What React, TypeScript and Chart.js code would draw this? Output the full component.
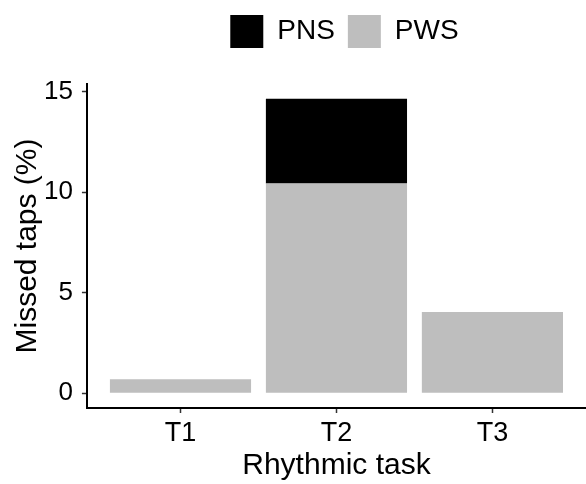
import React, { useEffect, useRef } from "react";
import { Chart, registerables } from "chart.js";

Chart.register(...registerables);

const categories = ["T1", "T2", "T3"];
const pwsValues = [0.7, 10.42, 4.04];
const pnsValues = [0, 4.22, 0];
const yTicks = [0, 5, 10, 15];
const seriesNames = { pns: "PNS", pws: "PWS" };
const xTitle = "Rhythmic task";
const yTitle = "Missed taps (%)";

export default function App() {
  const ref = useRef<HTMLCanvasElement>(null);

  useEffect(() => {
    document.body.style.margin = "0";
    if (!ref.current) return;
    Chart.defaults.font.family = "'Liberation Sans', Arial, sans-serif";

    const legendTweak = {
      id: "legendTweak",
      beforeInit(chart: any) {
        const l = chart.legend;
        if (!l) return;
        const fit = l.fit;
        l.fit = function () {
          fit.call(l);
          l.height += 26;
        };
      },
      afterLayout(chart: any) {
        const l = chart.legend;
        if (!l) return;
        l.left += 8;
        l.right += 8;
      },
    };

    const chart = new Chart(ref.current, {
      type: "bar",
      data: {
        datasets: [
          {
            label: seriesNames.pws,
            data: categories.map((_, i) => ({ x: i, y: pwsValues[i] })),
            backgroundColor: "#BEBEBE",
            borderWidth: 0,
          },
          {
            label: seriesNames.pns,
            data: categories.map((_, i) => ({ x: i, y: pnsValues[i] })),
            backgroundColor: "#000000",
            borderWidth: 0,
          },
        ],
      },
      options: {
        animation: false,
        responsive: true,
        maintainAspectRatio: false,
        categoryPercentage: 1,
        barPercentage: 0.905,
        layout: { padding: { top: 2, right: 0, left: 6, bottom: 0 } },
        plugins: {
          tooltip: { enabled: false },
          legend: {
            display: true,
            position: "top",
            fullSize: false,
            reverse: true,
            labels: {
              boxWidth: 33,
              boxHeight: 33,
              padding: 13,
              color: "#000",
              font: { size: 28 },
            },
          },
        },
        scales: {
          x: {
            type: "linear",
            min: -0.6,
            max: 2.6,
            stacked: true,
            offset: false,
            afterBuildTicks: (s: any) => {
              s.ticks = categories.map((_, i) => ({ value: i }));
            },
            ticks: {
              autoSkip: false,
              maxRotation: 0,
              color: "#000",
              font: { size: 27, lineHeight: 1.0 },
              padding: 7,
              callback: (v: any) => categories[v as number] ?? "",
            },
            grid: {
              display: true,
              offset: false,
              drawOnChartArea: false,
              tickLength: 5,
              tickColor: "#333",
              tickWidth: 1.5,
            },
            border: { display: true, color: "#000", width: 2 },
            title: {
              display: true,
              text: xTitle,
              color: "#000",
              font: { size: 30, lineHeight: 1.0 },
              padding: { top: -3, bottom: 3 },
            },
          },
          y: {
            stacked: true,
            min: -0.73,
            max: 15.37,
            afterBuildTicks: (s: any) => {
              s.ticks = yTicks.map((v) => ({ value: v }));
            },
            ticks: {
              color: "#000",
              font: { size: 26 },
              padding: 9,
            },
            grid: {
              display: true,
              drawOnChartArea: false,
              tickLength: 5,
              tickColor: "#333",
              tickWidth: 1.5,
            },
            border: { display: true, color: "#000", width: 2 },
            title: {
              display: true,
              text: yTitle,
              color: "#000",
              font: { size: 30, lineHeight: 1.0 },
              padding: { top: 7, bottom: -8 },
            },
          },
        },
      },
      plugins: [legendTweak],
    } as any);

    return () => chart.destroy();
  }, []);

  return (
    <div style={{ position: "relative", width: 586, height: 484 }}>
      <canvas ref={ref} />
    </div>
  );
}
